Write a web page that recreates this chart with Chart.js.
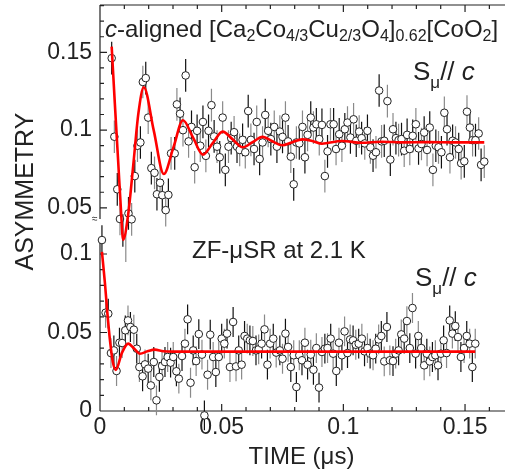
<!DOCTYPE html>
<html lang="en">
  <head>
    <meta charset="UTF-8" />
    <title>ZF-μSR asymmetry</title>
    <script src="https://cdn.jsdelivr.net/npm/chart.js"></script>
    <style>
      body {
        margin: 0;
        width: 508px;
        height: 474px;
        background: #fff;
        position: relative;
        overflow: hidden;
        font-family: "Liberation Sans", Arial, Helvetica, sans-serif;
        color: #222;
      }
      #topWrap { position: absolute; left: 0; top: 0; width: 508px; height: 262px; z-index: 2; }
      #botWrap { position: absolute; left: 0; top: 225px; width: 508px; height: 249px; z-index: 1; }
      .lbl { position: absolute; white-space: nowrap; z-index: 3; }
      .lbl sub { vertical-align: baseline; position: relative; }
    </style>
  </head>
  <body>
    <div id="topWrap"><canvas id="topChart"></canvas></div>
    <div id="botWrap"><canvas id="botChart"></canvas></div>

    <div class="lbl" style="left:105px; top:17px; font-size:24px; line-height:24px">
      <i>c</i>-aligned [Ca<sub style="font-size:16px; top:4px">2</sub>Co<sub style="font-size:16px; top:4px">4/3</sub>Cu<sub style="font-size:16px; top:4px">2/3</sub>O<sub style="font-size:16px; top:4px">4</sub>]<sub style="font-size:16px; top:4px">0.62</sub>[CoO<sub style="font-size:16px; top:4px">2</sub>]
    </div>
    <div class="lbl" style="left:413px; top:58px; font-size:26px; line-height:26px">
      S<sub style="font-size:17px; top:8px">μ</sub>// <i>c</i>
    </div>
    <div class="lbl" style="left:192px; top:238px; font-size:24px; line-height:24px">ZF-μSR at 2.1 K</div>
    <div class="lbl" style="left:415px; top:264px; font-size:26px; line-height:26px">
      S<sub style="font-size:17px; top:8px">μ</sub>// <i>c</i>
    </div>
    <div class="lbl" style="left:-54px; top:180px; width:156px; text-align:center; font-size:25px; line-height:25px; transform:rotate(-90deg)">ASYMMETRY</div>
    <div class="lbl" style="left:92px; top:214px; font-size:10px; line-height:10px">≈</div>

    <script>
      "use strict";
      const font = '"Liberation Sans", Arial, sans-serif';
      const xMax = 0.1656;

      const xTicks = [0, 0.05, 0.1, 0.15];
      const xTickLabels = ["0", "0.05", "0.1", "0.15"];
      const topTicks = [0.05, 0.1, 0.15];
      const topTickLabels = ["0.05", "0.1", "0.15"];
      const botTicks = [0, 0.05, 0.1];
      const botTickLabels = ["0", "0.05", "0.1"];

      // upper panel data (time in us, asymmetry)
      const topTime = [
        0.0048, 0.0059, 0.0071, 0.0082, 0.0094, 0.0106, 0.0117, 0.013, 0.0143, 0.0154,
        0.0166, 0.0176, 0.0188, 0.0198, 0.0211, 0.0224, 0.0234, 0.0247, 0.0256, 0.027,
        0.0281, 0.0292, 0.0307, 0.0316, 0.0329, 0.0341, 0.0352, 0.0364, 0.0376, 0.0389,
        0.0399, 0.0412, 0.0423, 0.0435, 0.0446, 0.0458, 0.0469, 0.0481, 0.0492, 0.0504,
        0.0515, 0.0528, 0.0539, 0.0551, 0.0563, 0.0574, 0.0586, 0.0597, 0.0609, 0.062,
        0.0633, 0.0644, 0.0656, 0.0668, 0.0679, 0.0691, 0.0702, 0.0716, 0.0727,
        0.0739, 0.075, 0.0762, 0.0773, 0.0784, 0.0796, 0.0807, 0.0819, 0.0832, 0.0842,
        0.0853, 0.0866, 0.0877, 0.0889, 0.0901, 0.0912, 0.0924, 0.0935, 0.0947, 0.096,
        0.097, 0.0983, 0.0994, 0.1006, 0.1017, 0.1029, 0.1042, 0.1053, 0.1065, 0.1075,
        0.1088, 0.1099, 0.1111, 0.1122, 0.1134, 0.1147, 0.1157, 0.1168, 0.1181, 0.1193,
        0.1204, 0.1216, 0.1227, 0.1239, 0.125, 0.1262, 0.1273, 0.1285, 0.1298, 0.1309,
        0.1321, 0.1332, 0.1344, 0.1355, 0.1368, 0.138, 0.1391, 0.1403, 0.1415, 0.1426,
        0.1438, 0.1449, 0.1461, 0.1474, 0.1484, 0.1497, 0.1508, 0.152, 0.1531, 0.1543,
        0.1556, 0.1566, 0.1579
      ];
      const topAsym = [
        0.1462, 0.0957, 0.0619, 0.0428, 0.0354, 0.0237, 0.0464, 0.0426, 0.0704, 0.0899,
        0.092, 0.1309, 0.1334, 0.108, 0.0755, 0.0725, 0.0587, 0.0661, 0.0581, 0.0485,
        0.0583, 0.085, 0.085, 0.1165, 0.1105, 0.0999, 0.1351, 0.0927, 0.102, 0.0761,
        0.0995, 0.0899, 0.1052, 0.0834, 0.0995, 0.116, 0.0959, 0.0893, 0.0825, 0.108,
        0.0744, 0.0893, 0.0948, 0.0986, 0.0893, 0.0872, 0.0937, 0.0857, 0.1122, 0.0937,
        0.0878, 0.1052, 0.0814, 0.092, 0.1097, 0.0995, 0.0942, 0.102, 0.0893,
        0.099, 0.0956, 0.108, 0.0927, 0.0829, 0.0651, 0.092, 0.0914, 0.102, 0.0825,
        0.0969, 0.108, 0.1016, 0.1037, 0.0942, 0.1033, 0.0704, 0.0863, 0.1037, 0.1037,
        0.0878, 0.0973, 0.0899, 0.1005, 0.1048, 0.0952, 0.1069, 0.0931, 0.099, 0.0948,
        0.0914, 0.0995, 0.0889, 0.0835, 0.0857, 0.1254, 0.0927, 0.0931, 0.1186, 0.081,
        0.1005, 0.0948, 0.0935, 0.0942, 0.0867, 0.0969, 0.0878, 0.0963, 0.1037, 0.0882,
        0.091, 0.0984, 0.0872, 0.1016, 0.0744, 0.0899, 0.0889, 0.0857, 0.1111, 0.1005,
        0.0825, 0.0931, 0.092, 0.0878, 0.0787, 0.0799, 0.1118, 0.1016, 0.0935, 0.0935,
        0.0978, 0.0776, 0.0797
      ];
      const topErr = 0.0105;

      // fit curve, upper panel
      const topFitTime = [
        0.0048, 0.0061, 0.0075, 0.0086, 0.0095, 0.0116, 0.0137, 0.0158, 0.018, 0.0221,
        0.0262, 0.0302, 0.0341, 0.0382, 0.0423, 0.0463, 0.0504, 0.0545, 0.0586, 0.0627,
        0.0668, 0.0708, 0.0749, 0.079, 0.0831, 0.0872, 0.0912, 0.0994, 0.1075, 0.1157,
        0.125, 0.135, 0.145, 0.1579
      ];
      const topFitAsym = [
        0.1536, 0.117, 0.079, 0.049, 0.0294, 0.046, 0.078, 0.111, 0.1275, 0.0996,
        0.0717, 0.089, 0.1063, 0.0953, 0.0842, 0.0916, 0.099, 0.094, 0.0889, 0.0922,
        0.0956, 0.0928, 0.0902, 0.0922, 0.094, 0.093, 0.0912, 0.093, 0.0918, 0.0925,
        0.0921, 0.0922, 0.0921, 0.0921
      ];

      // lower panel data
      const botTime = [
        0.0008, 0.0023, 0.0034, 0.0045, 0.0057, 0.0068, 0.008, 0.0091, 0.0104, 0.0115,
        0.0125, 0.0139, 0.0151, 0.0162, 0.0175, 0.0185, 0.0198, 0.0209, 0.0221, 0.0232,
        0.0244, 0.0255, 0.0267, 0.0278, 0.029, 0.0301, 0.0314, 0.0324, 0.0337, 0.0349,
        0.036, 0.0372, 0.0383, 0.0395, 0.0406, 0.0419, 0.0429, 0.0442, 0.0453, 0.0465,
        0.0476, 0.0488, 0.05, 0.0511, 0.0522, 0.0534, 0.0547, 0.0559, 0.057, 0.0582,
        0.0594, 0.0605, 0.0616, 0.0628, 0.0641, 0.0652, 0.0664, 0.0676, 0.0688, 0.0699,
        0.0712, 0.0724,
        0.0739, 0.075, 0.0762, 0.0773, 0.0784, 0.0796, 0.0807, 0.0819, 0.083, 0.0842,
        0.0853, 0.0866, 0.0877, 0.0889, 0.09, 0.0912, 0.0924, 0.0935, 0.0948, 0.0958,
        0.0971, 0.0982, 0.0994, 0.1005, 0.1017, 0.1028, 0.104, 0.1051, 0.1063, 0.1076,
        0.1087, 0.1099, 0.111, 0.1122, 0.1133, 0.1145, 0.1156, 0.1168, 0.1179, 0.1191,
        0.1204, 0.1215, 0.1227, 0.1238, 0.125, 0.1261, 0.1273, 0.1284, 0.1297, 0.1308,
        0.132, 0.1332, 0.1343, 0.1355, 0.1366, 0.1378, 0.1389, 0.1401, 0.1412, 0.1424,
        0.1437, 0.1448, 0.146, 0.1471, 0.1483, 0.1496, 0.1507, 0.1519, 0.153, 0.1542
      ];
      const botAsym = [
        0.1089, 0.0626, 0.062, 0.0369, 0.0386, 0.0255, 0.0435, 0.0433, 0.0514, 0.0577,
        0.0535, 0.0518, 0.0397, 0.028, 0.0221, 0.0297, 0.027, 0.0163, 0.0312, 0.0068,
        0.0217, 0.0287, 0.0312, 0.0344, 0.0308, 0.0344, 0.0253, 0.0206, 0.035, 0.0429,
        0.0584, 0.018, 0.0386, 0.0318, 0.049, 0.0359, -0.0028, 0.0231, 0.0486, 0.0344,
        0.0248, 0.0344, 0.0461, 0.0429, 0.0493, 0.028, 0.0567, 0.0284, 0.0386, 0.0295,
        0.0478, 0.0461, 0.045, 0.0446, 0.0386, 0.0393, 0.0429, 0.052, 0.0295, 0.0429,
        0.0461, 0.0372,
        0.0386, 0.0333, 0.0493, 0.0408, 0.028, 0.0355, 0.0153, 0.0355, 0.0323, 0.0435,
        0.0295, 0.0359, 0.0263, 0.0401, 0.0149, 0.0376, 0.0397, 0.0401, 0.0461, 0.0365,
        0.0255, 0.0435, 0.0355, 0.0507, 0.0369, 0.0456, 0.045, 0.0422, 0.0429, 0.0461,
        0.038, 0.0401, 0.0365, 0.0355, 0.0397, 0.0456, 0.0478, 0.0316, 0.0535, 0.0323,
        0.0318, 0.0365, 0.0386, 0.0488, 0.0461, 0.0573, 0.0401, 0.0656, 0.0365, 0.0478,
        0.0401, 0.0291, 0.0365, 0.0316, 0.0344, 0.0355, 0.0291, 0.0365, 0.045, 0.0369,
        0.0577, 0.0493, 0.0541, 0.0471, 0.0344, 0.0401, 0.0478, 0.0429, 0.028, 0.0429
      ];
      const botErr = 0.0095;

      const botFitTime = [
        0.0008, 0.002, 0.003, 0.0041, 0.0053, 0.0065, 0.009, 0.0116, 0.014, 0.0164,
        0.0195, 0.0225, 0.026, 0.03, 0.06, 0.1, 0.1542
      ];
      const botFitAsym = [
        0.1013, 0.082, 0.063, 0.045, 0.031, 0.0262, 0.037, 0.0429, 0.0398, 0.0365,
        0.038, 0.0391, 0.0381, 0.0378, 0.0378, 0.0378, 0.0378
      ];

      const pts = (ts, vs) => ts.map((t, i) => ({ x: t, y: vs[i] }));

      // error bars as broken line segments, every other one in grey
      function bars(ts, vs, err, parity) {
        const out = [];
        ts.forEach((t, i) => {
          if (i % 2 !== parity) return;
          out.push({ x: t, y: vs[i] - err }, { x: t, y: vs[i] + err }, { x: t, y: null });
        });
        return out;
      }

      // axis lines with inward major/minor ticks
      const framePlugin = {
        id: "frame",
        beforeDatasetsDraw(chart, args, opts) {
          const ctx = chart.ctx;
          const a = chart.chartArea;
          const xs = chart.scales.x;
          const ys = chart.scales.y;
          const edge = opts.edge === "top" ? a.top : a.bottom;
          const dir = opts.edge === "top" ? 1 : -1;
          ctx.save();
          ctx.strokeStyle = "#222";
          ctx.lineWidth = 1.2;
          ctx.beginPath();
          ctx.moveTo(a.left, a.top);
          ctx.lineTo(a.left, a.bottom);
          ctx.moveTo(a.left, edge);
          ctx.lineTo(a.right + 2, edge);
          for (let k = 0; k <= 16; k++) {
            const px = xs.getPixelForValue(k / 100);
            const len = k % 5 === 0 ? 7 : 4;
            ctx.moveTo(px, edge);
            ctx.lineTo(px, edge + dir * len);
          }
          const k0 = Math.ceil(ys.min * 100 - 1e-6);
          const k1 = Math.floor(ys.max * 100 + 1e-6);
          for (let k = k0; k <= k1; k++) {
            const py = ys.getPixelForValue(k / 100);
            const len = k % 5 === 0 ? 7 : 4;
            ctx.moveTo(a.left, py);
            ctx.lineTo(a.left + len, py);
          }
          ctx.stroke();
          ctx.restore();
        },
      };

      function datasets(ts, vs, err, fitT, fitV) {
        return [
          {
            type: "line",
            data: pts(fitT, fitV),
            borderColor: "#ff0000",
            borderWidth: 2.6,
            pointRadius: 0,
            cubicInterpolationMode: "monotone",
            clip: false,
            order: 0,
          },
          {
            data: pts(ts, vs),
            pointStyle: "circle",
            pointRadius: 3.8,
            pointBorderWidth: 1,
            borderColor: "#222",
            backgroundColor: "#fff",
            clip: false,
            order: 1,
          },
          {
            type: "line",
            data: bars(ts, vs, err, 0),
            borderColor: "#111",
            borderWidth: 1.2,
            pointRadius: 0,
            spanGaps: false,
            clip: false,
            order: 2,
          },
          {
            type: "line",
            data: bars(ts, vs, err, 1),
            borderColor: "#8a8a8a",
            borderWidth: 1.2,
            pointRadius: 0,
            spanGaps: false,
            clip: false,
            order: 3,
          },
        ];
      }

      function yScale(min, max, ticks, labels) {
        return {
          type: "linear",
          min: min,
          max: max,
          afterFit: (s) => {
            s.width = 100;
            s.paddingTop = 0;
            s.paddingBottom = 0;
          },
          afterBuildTicks: (s) => { s.ticks = ticks.map((v) => ({ value: v })); },
          ticks: {
            padding: 8,
            color: "#222",
            font: { size: 23, family: font },
            callback: (v, i) => labels[i],
          },
          grid: { display: false, drawTicks: false },
          border: { display: false },
        };
      }

      const common = {
        responsive: true,
        maintainAspectRatio: false,
        animation: false,
        devicePixelRatio: 1,
        plugins: { legend: { display: false }, tooltip: { enabled: false } },
      };

      new Chart(document.getElementById("topChart"), {
        type: "scatter",
        data: { datasets: datasets(topTime, topAsym, topErr, topFitTime, topFitAsym) },
        options: {
          ...common,
          layout: { padding: { top: 3, right: 3, bottom: 43, left: 0 } },
          plugins: { ...common.plugins, frame: { edge: "top" } },
          scales: {
            x: { type: "linear", min: 0, max: xMax, display: false },
            y: yScale(0.0428, 0.1804, topTicks, topTickLabels),
          },
        },
        plugins: [framePlugin],
      });

      new Chart(document.getElementById("botChart"), {
        type: "scatter",
        data: { datasets: datasets(botTime, botAsym, botErr, botFitTime, botFitAsym) },
        options: {
          ...common,
          layout: { padding: { top: 13, right: 3, bottom: 0, left: 0 } },
          plugins: { ...common.plugins, frame: { edge: "bottom" } },
          scales: {
            x: {
              type: "linear",
              min: 0,
              max: xMax,
              afterFit: (s) => {
                s.height = 63;
                s.paddingLeft = 0;
                s.paddingRight = 0;
              },
              afterBuildTicks: (s) => { s.ticks = xTicks.map((v) => ({ value: v })); },
              ticks: {
                padding: 3,
                maxRotation: 0,
                autoSkip: false,
                color: "#222",
                font: { size: 23, family: font },
                callback: (v, i) => xTickLabels[i],
              },
              grid: { display: false, drawTicks: false },
              border: { display: false },
              title: {
                display: true,
                text: "TIME (μs)",
                color: "#222",
                font: { size: 24, family: font },
                padding: { top: 0, bottom: 2 },
              },
            },
            y: yScale(0, 0.1102, botTicks, botTickLabels),
          },
        },
        plugins: [framePlugin],
      });
    </script>
  </body>
</html>
